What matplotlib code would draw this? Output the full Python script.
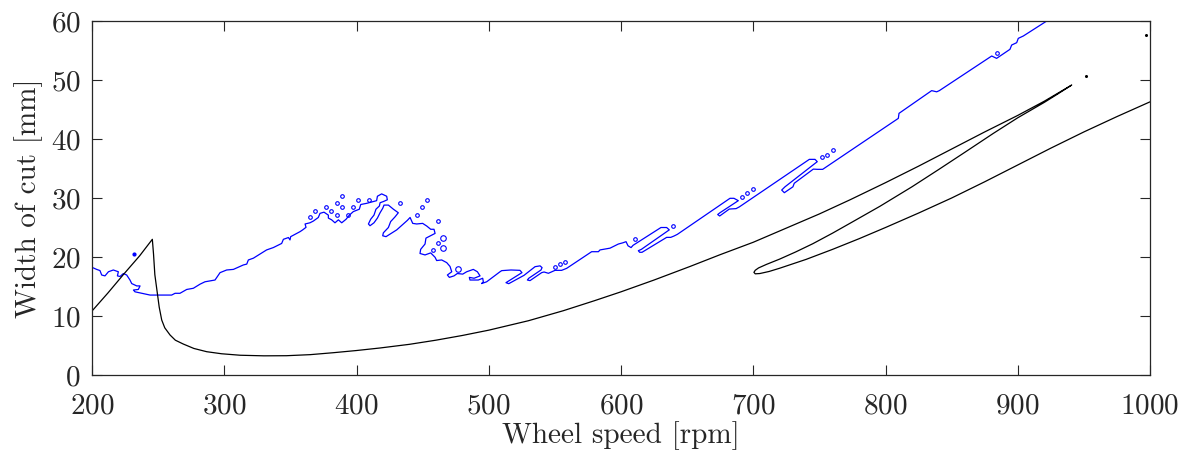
import numpy as np
import matplotlib
matplotlib.use("Agg")
import matplotlib.pyplot as plt

plt.rcParams['font.family'] = 'serif'
plt.rcParams['font.serif'] = ['cmr10']
plt.rcParams['mathtext.fontset'] = 'cm'
plt.rcParams['axes.formatter.use_mathtext'] = True

# stability boundary (black), one continuous branch incl. the loop on the right
speed_black = [200, 212, 224, 236, 245.6, 246.5, 247.5, 249.4, 250.8, 252.7, 255, 259, 263, 269,
               277, 286.7, 298, 312, 330, 347, 365, 382.5, 400, 417.8, 440, 460, 480, 500, 530,
               556.4, 580, 600, 625, 652.2, 675, 700, 725, 750, 773.2, 800, 825, 850, 875, 900,
               920, 940.8,
               930, 920, 900, 881.5, 860, 840, 820, 795.8, 775, 760, 745, 732, 720, 710, 704,
               701.5, 700.5, 701.5, 705, 712, 720, 740, 760, 780, 800, 825, 850, 875, 900, 925,
               950, 975, 1000]
width_black = [10.85, 13.9, 17.1, 20.2, 23.0, 20.5, 17.0, 13.84, 11.5, 9.32, 8.0, 6.78, 5.9, 5.25,
               4.5, 3.95, 3.6, 3.35, 3.25, 3.27, 3.45, 3.78, 4.15, 4.58, 5.2, 5.9, 6.7, 7.6, 9.2,
               10.9, 12.6, 14.1, 16.1, 18.4, 20.4, 22.5, 24.9, 27.3, 29.7, 32.6, 35.4, 38.3, 41.2,
               44.0, 46.4, 49.15,
               47.6, 46.2, 43.6, 40.95, 37.75, 34.8, 31.9, 28.6, 25.95, 24.05, 22.25, 20.85,
               19.65, 18.75, 18.15, 17.75, 17.4, 17.15, 17.2, 17.55, 18.1, 19.6, 21.3, 23.1,
               25.0, 27.45, 30.0, 32.75, 35.6, 38.45, 41.2, 43.8, 46.3]
dots_speed = [951.3, 996.7]
dots_width = [50.7, 57.6]

# simulated boundary (blue contour)
speed_blue = [200, 200, 203.5, 206, 207.3, 209.8, 212.4, 216.1, 219.9, 219.2, 221.2, 223.7, 226.2,
              228.7, 230, 233.8, 236.3, 235, 231.3, 232.5, 243.9, 260.2, 262.8, 266.5, 271.6,
              276.6, 281.7, 285.4, 293, 296.8, 301.8, 306.9, 314.4, 317, 318.2, 322, 332, 337.1,
              343.4, 344.7, 348.5, 349.7, 350.2, 357.3,
              359.3, 361.8, 361.1, 364.8, 367.4, 371.1, 372.4, 375.4, 378.7, 378.7, 381.2, 383.7,
              386.3, 388.8, 392.1, 394.6, 397.6, 402.1, 403.2, 407.7, 412.7, 415.2, 415.8, 419,
              422.8, 423.3, 420.3, 417.8, 417.3, 414.7, 413.2, 410.7, 409, 410.2, 413.2, 415.8,
              417.8, 419.8, 420.8, 424.1, 427.9, 431.6, 429.1, 425.8, 424.1, 420.3, 419.8, 422.3,
              430.4, 438.4, 440.5, 442.5, 445.5, 450, 453.1, 456.1, 458.6, 459.4, 452.5, 451.8,
              448.5, 448, 451.8, 456.1, 459.4, 460.6, 464.4, 468.2, 470.7, 472, 468.7, 470.2,
              473.7, 476.2, 480.3, 483.3, 488.3, 491.4, 493.4, 488.9, 485.3, 485.8, 492.1, 495.4,
              495.9, 494.6, 498.4, 508.5,
              509.8, 516.8, 523.6, 525.1, 514.6, 513.0, 515.1, 526.7, 535.0, 538.8, 540.3, 539.5,
              530.2, 529.2, 531.2, 540.0, 541.8, 545.1, 550.1, 555.1, 558.9, 577.8, 582.9, 584.1,
              591.7, 598.0, 601.3,
              603.8, 605.3, 607.6, 609.1, 630.2, 634.5, 636.5, 615.4, 613.1, 614.1, 615.9, 634.5,
              637.6, 640.1, 642.6,
              682.4, 685.4, 688.7, 674.8, 673.1, 674.6, 681.9, 687.0, 689.5, 742.4, 746.7, 748.4,
              724.0, 721.5, 723.5, 730.0, 731.0, 745.4, 748.4, 752.5, 809.7, 810.2, 834.9, 838.7,
              840.7, 880.3, 884.0, 894.1, 895.4, 899.2, 900.4, 904.2, 923.1]
width_blue = [20.05, 18.25, 17.9, 17.7, 16.95, 16.8, 17.5, 17.8, 17.5, 16.8, 16.7, 17.2, 16.95,
              16.1, 15.5, 15.1, 15.1, 14.5, 14.4, 14.1, 13.55, 13.55, 13.85, 13.85, 14.5,
              14.7, 15.4, 15.8, 16.1, 17.35, 17.8, 17.9, 18.65, 18.8, 19.5, 19.8, 21.2, 21.6,
              22.3, 23.0, 23.3, 22.9, 23.45, 24.3,
              24.6, 25.03, 25.6, 25.8, 26.1, 26.7, 27.4, 27.6, 27.1, 26.6, 26.3, 25.8,
              26.3, 25.8, 26.4, 27.1, 27.7, 28.1, 28.9, 29.1, 29.4, 29.55, 30.3, 30.7,
              30.3, 29.7, 29.4, 29.2, 28.65, 28.1, 27.1, 26.4, 25.6, 25.3, 25.8, 26.6,
              27.5, 28.25, 28.8, 28.8, 28.1, 27.5, 26.8, 26.0, 25.0, 24.1, 23.6, 23.45,
              24.6, 26.2, 26.7, 25.7, 25.6, 25.7, 25.25, 24.7, 24.7, 24.0, 23.2, 22.2,
              21.3, 20.6, 20.35, 20.7, 19.95, 19.4, 19.5, 19.05, 18.4, 17.5, 16.95, 16.55,
              16.8, 17.2, 17.1, 17.5, 17.9, 17.5, 16.8, 16.4, 16.55, 16.1, 16.1, 16.4,
              15.8, 15.5, 15.8, 17.5,
              17.69, 17.8, 17.74, 17.35, 15.88, 15.65, 15.48, 16.9, 18.36, 18.5, 18.2, 17.8,
              16.39, 16.1, 16.0, 17.35, 17.46, 17.24, 17.74, 17.74, 18.08, 20.9, 20.9, 21.2,
              21.5, 22.2, 22.4,
              22.6, 21.9, 21.6, 21.98, 25.0, 25.0, 24.6, 21.3, 21.07, 20.8, 20.8, 23.33,
              23.33, 23.56, 23.84,
              29.95, 29.95, 29.55, 27.5, 27.2, 26.95, 28.13, 28.2, 28.5, 36.55, 36.55, 36.16,
              31.9, 31.35, 30.9, 31.9, 32.5, 34.9, 34.86, 34.86, 43.5, 44.35, 48.2, 48.0,
              48.2, 54.07, 53.67, 55.2, 55.93, 56.33, 57.06, 57.46, 60.17]

# small closed islands of the blue contour
island_speed = [364.8, 368.9, 376.9, 381.0, 385.0, 388.8, 385.0, 388.8, 393.2, 397.1, 401.3, 409.1,
                432.9, 453.6, 449.3, 445.5, 461.4, 461.4, 457.6, 550.1, 553.9, 557.7, 610.6,
                639.0, 691.2, 695.0, 699.5, 751.7, 755.5, 760.0, 884.5]
island_width = [26.7, 27.85, 28.5, 27.85, 29.1, 30.3, 27.2, 28.5, 27.2, 28.5, 29.7, 29.7,
                29.1, 29.7, 28.5, 27.2, 26.1, 22.4, 21.2, 18.25, 18.8, 19.2, 23.0,
                25.3, 30.2, 30.8, 31.5, 37.0, 37.3, 38.1, 54.5]
oval_speed = [465.7, 465.7, 477.0]
oval_width = [23.3, 21.5, 17.9]
blue_dot_speed = [232]
blue_dot_width = [20.5]

fig = plt.figure(figsize=(11.89, 4.54), dpi=100)
ax = fig.add_axes([0.0774, 0.174, 0.8898, 0.7797])

ax.plot(speed_blue, width_blue, color='b', lw=0.9)
ax.plot(island_speed, island_width, ls='none', marker='o', ms=2.6, mfc='none', mec='b', mew=0.8)
ax.plot(oval_speed, oval_width, ls='none', marker='o', ms=4, mfc='none', mec='b', mew=0.8)
ax.plot(blue_dot_speed, blue_dot_width, ls='none', marker='o', ms=2, color='b')
ax.plot(speed_black, width_black, color='k', lw=0.9)
ax.plot(dots_speed, dots_width, ls='none', marker='o', ms=1.2, color='k')

ax.set_xlim(200, 1000)
ax.set_ylim(0, 60)
ax.set_xticks(np.arange(200, 1001, 100))
ax.set_yticks(np.arange(0, 61, 10))
ax.tick_params(direction='in', top=True, right=True, length=7.5, width=0.8,
               labelsize=21, colors='#262626')
ax.tick_params(axis='x', pad=13)
ax.tick_params(axis='y', pad=8)
for s in ax.spines.values():
    s.set_color('#262626')
    s.set_linewidth(0.9)
ax.set_xlabel('Wheel speed [rpm]', fontsize=21, color='#262626', labelpad=1)
ax.set_ylabel('Width of cut [mm]', fontsize=21, color='#262626', labelpad=6)

fig.savefig('out.png', dpi=100)
